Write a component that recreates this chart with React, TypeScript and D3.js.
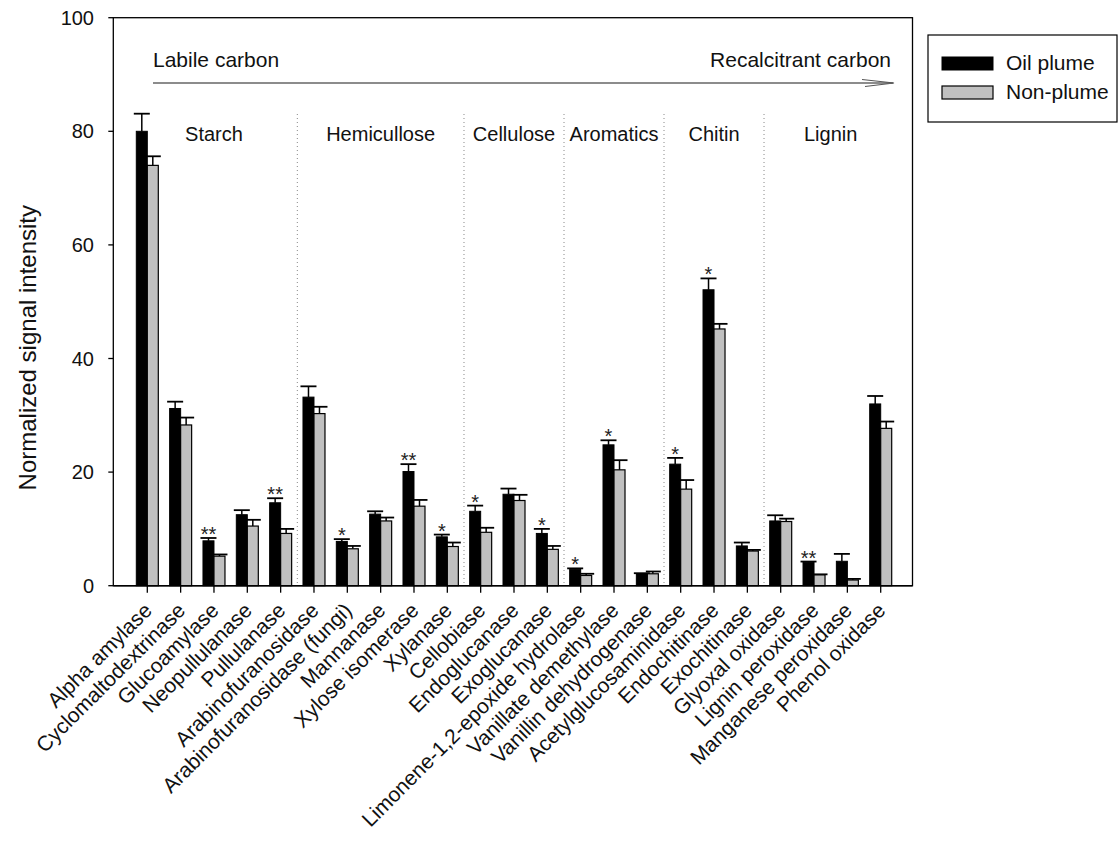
import * as d3 from "d3";

const categories = [
  "Alpha amylase",
  "Cyclomaltodextrinase",
  "Glucoamylase",
  "Neopullulanase",
  "Pullulanase",
  "Arabinofuranosidase",
  "Arabinofuranosidase (fungi)",
  "Mannanase",
  "Xylose isomerase",
  "Xylanase",
  "Cellobiase",
  "Endoglucanase",
  "Exoglucanase",
  "Limonene-1,2-epoxide hydrolase",
  "Vanillate demethylase",
  "Vanillin dehydrogenase",
  "Acetylglucosaminidase",
  "Endochitinase",
  "Exochitinase",
  "Glyoxal oxidase",
  "Lignin peroxidase",
  "Manganese peroxidase",
  "Phenol oxidase",
];

const oilPlume = [80.0, 31.2, 7.9, 12.5, 14.6, 33.2, 7.8, 12.6, 20.1, 8.6, 13.1, 16.1, 9.2, 2.9, 24.8, 2.1, 21.4, 52.1, 7.0, 11.4, 4.1, 4.3, 32.0];
const oilPlumeErr = [3.1, 1.2, 0.5, 0.8, 0.8, 1.9, 0.4, 0.5, 1.3, 0.4, 1.0, 1.0, 0.8, 0.15, 0.8, 0.1, 1.1, 2.0, 0.6, 1.0, 0.15, 1.3, 1.4];
const nonPlume = [74.0, 28.3, 5.2, 10.5, 9.2, 30.3, 6.5, 11.4, 14.0, 6.9, 9.4, 15.0, 6.4, 1.8, 20.4, 2.1, 17.0, 45.2, 6.1, 11.3, 1.9, 1.0, 27.7];
const nonPlumeErr = [1.6, 1.3, 0.3, 1.1, 0.8, 1.2, 0.5, 0.6, 1.1, 0.7, 0.8, 1.0, 0.6, 0.3, 1.7, 0.4, 1.6, 0.9, 0.2, 0.5, 0.1, 0.2, 1.2];
const significance = ["", "", "**", "", "**", "", "*", "", "**", "*", "*", "", "*", "*", "*", "", "*", "*", "", "", "**", "", ""];

const groups = [
  { name: "Starch", from: 0, to: 4 },
  { name: "Hemicullose", from: 5, to: 9 },
  { name: "Cellulose", from: 10, to: 12 },
  { name: "Aromatics", from: 13, to: 15 },
  { name: "Chitin", from: 16, to: 18 },
  { name: "Lignin", from: 19, to: 22 },
];

const yTicks = [0, 20, 40, 60, 80, 100];

const FONT = "'Liberation Sans', Arial, Helvetica, sans-serif";
const GREY = "#c0c0c0";

export default function App() {
  const width = 1119;
  const height = 845;
  const left = 113.3;
  const right = 912.5;

  const x = d3.scalePoint<string>().domain(categories).range([147.3, 880.7]);
  const y = d3.scaleLinear().domain([0, 100]).range([585.7, 17.7]);
  const step = x.step();
  const barW = 11;
  const capHalf = 8;

  return (
    <svg
      width={width}
      height={height}
      style={{ position: "absolute", left: 0, top: 0, background: "#fff" }}
      fontFamily={FONT}
    >
      {/* frame */}
      <rect x={left} y={y(100)} width={right - left} height={y(0) - y(100)} fill="none" stroke="#000" strokeWidth={1.3} />

      {/* y axis */}
      {yTicks.map((t) => (
        <g key={t}>
          <line x1={left - 5} x2={left} y1={y(t)} y2={y(t)} stroke="#000" strokeWidth={1.3} />
          <text x={94} y={y(t)} dy="0.35em" textAnchor="end" fontSize={20} fill="#111">
            {t}
          </text>
        </g>
      ))}
      <text
        transform={`translate(36,${(y(0) + y(100)) / 2 + 46}) rotate(-90)`}
        textAnchor="middle"
        fontSize={24}
        fill="#111"
      >
        Normalized signal intensity
      </text>

      {/* carbon arrow */}
      <text x={153} y={67} fontSize={21} fill="#111">
        Labile carbon
      </text>
      <text x={891} y={67} fontSize={21} fill="#111" textAnchor="end">
        Recalcitrant carbon
      </text>
      <line x1={153} x2={893} y1={83} y2={83} stroke="#666" strokeWidth={1.4} />
      <path d="M862,79.5 L894,83 L865,86.5" fill="none" stroke="#555" strokeWidth={1.2} />

      {/* group separators + labels */}
      {groups.map((g, gi) => {
        const cx = ((x(categories[g.from]) as number) + (x(categories[g.to]) as number)) / 2;
        const sep = (x(categories[g.to]) as number) + step / 2;
        return (
          <g key={g.name}>
            <text x={cx} y={141} textAnchor="middle" fontSize={20} fill="#111">
              {g.name}
            </text>
            {gi < groups.length - 1 ? (
              <line
                x1={sep}
                x2={sep}
                y1={114}
                y2={y(0)}
                stroke="#888"
                strokeWidth={1}
                strokeDasharray="1,3"
              />
            ) : null}
          </g>
        );
      })}

      {/* bars */}
      {categories.map((c, i) => {
        const cx = x(c) as number;
        const bx = cx - barW;
        const gx = cx;
        const capB = y(oilPlume[i] + oilPlumeErr[i]);
        const capG = y(nonPlume[i] + nonPlumeErr[i]);
        return (
          <g key={c}>
            <line x1={bx + barW / 2} x2={bx + barW / 2} y1={y(oilPlume[i])} y2={capB} stroke="#000" strokeWidth={1.5} />
            <line x1={bx + barW / 2 - capHalf} x2={bx + barW / 2 + capHalf} y1={capB} y2={capB} stroke="#000" strokeWidth={1.8} />
            <line x1={gx + barW / 2} x2={gx + barW / 2} y1={y(nonPlume[i])} y2={capG} stroke="#000" strokeWidth={1.5} />
            <line x1={gx + barW / 2 - capHalf + 1} x2={gx + barW / 2 + capHalf} y1={capG} y2={capG} stroke="#000" strokeWidth={1.8} />
            <rect x={bx} y={y(oilPlume[i])} width={barW} height={y(0) - y(oilPlume[i])} fill="#000" stroke="#000" strokeWidth={1} />
            <rect x={gx} y={y(nonPlume[i])} width={barW} height={y(0) - y(nonPlume[i])} fill={GREY} stroke="#000" strokeWidth={1.2} />
            {significance[i] ? (
              <text x={bx + barW / 2} y={capB + 3} textAnchor="middle" fontSize={20} fill="#222">
                {significance[i]}
              </text>
            ) : null}
          </g>
        );
      })}

      {/* x axis line + ticks */}
      <line x1={left} x2={right} y1={y(0)} y2={y(0)} stroke="#000" strokeWidth={1.6} />
      {categories.map((c) => {
        const cx = x(c) as number;
        return (
          <g key={`t-${c}`}>
            <line x1={cx} x2={cx} y1={y(0)} y2={y(0) + 7} stroke="#000" strokeWidth={1.3} />
            <text
              transform={`translate(${cx + 6},${y(0) + 26}) rotate(-45)`}
              textAnchor="end"
              fontSize={21}
              fill="#111"
            >
              {c}
            </text>
          </g>
        );
      })}

      {/* legend */}
      <rect x={928} y={35} width={189} height={87} fill="#fff" stroke="#000" strokeWidth={1.2} />
      <rect x={942} y={57} width={51} height={13} fill="#000" stroke="#000" />
      <rect x={942} y={86} width={51} height={13} fill={GREY} stroke="#000" strokeWidth={1.2} />
      <text x={1006} y={70} fontSize={21} fill="#111">
        Oil plume
      </text>
      <text x={1006} y={99} fontSize={21} fill="#111">
        Non-plume
      </text>
    </svg>
  );
}
